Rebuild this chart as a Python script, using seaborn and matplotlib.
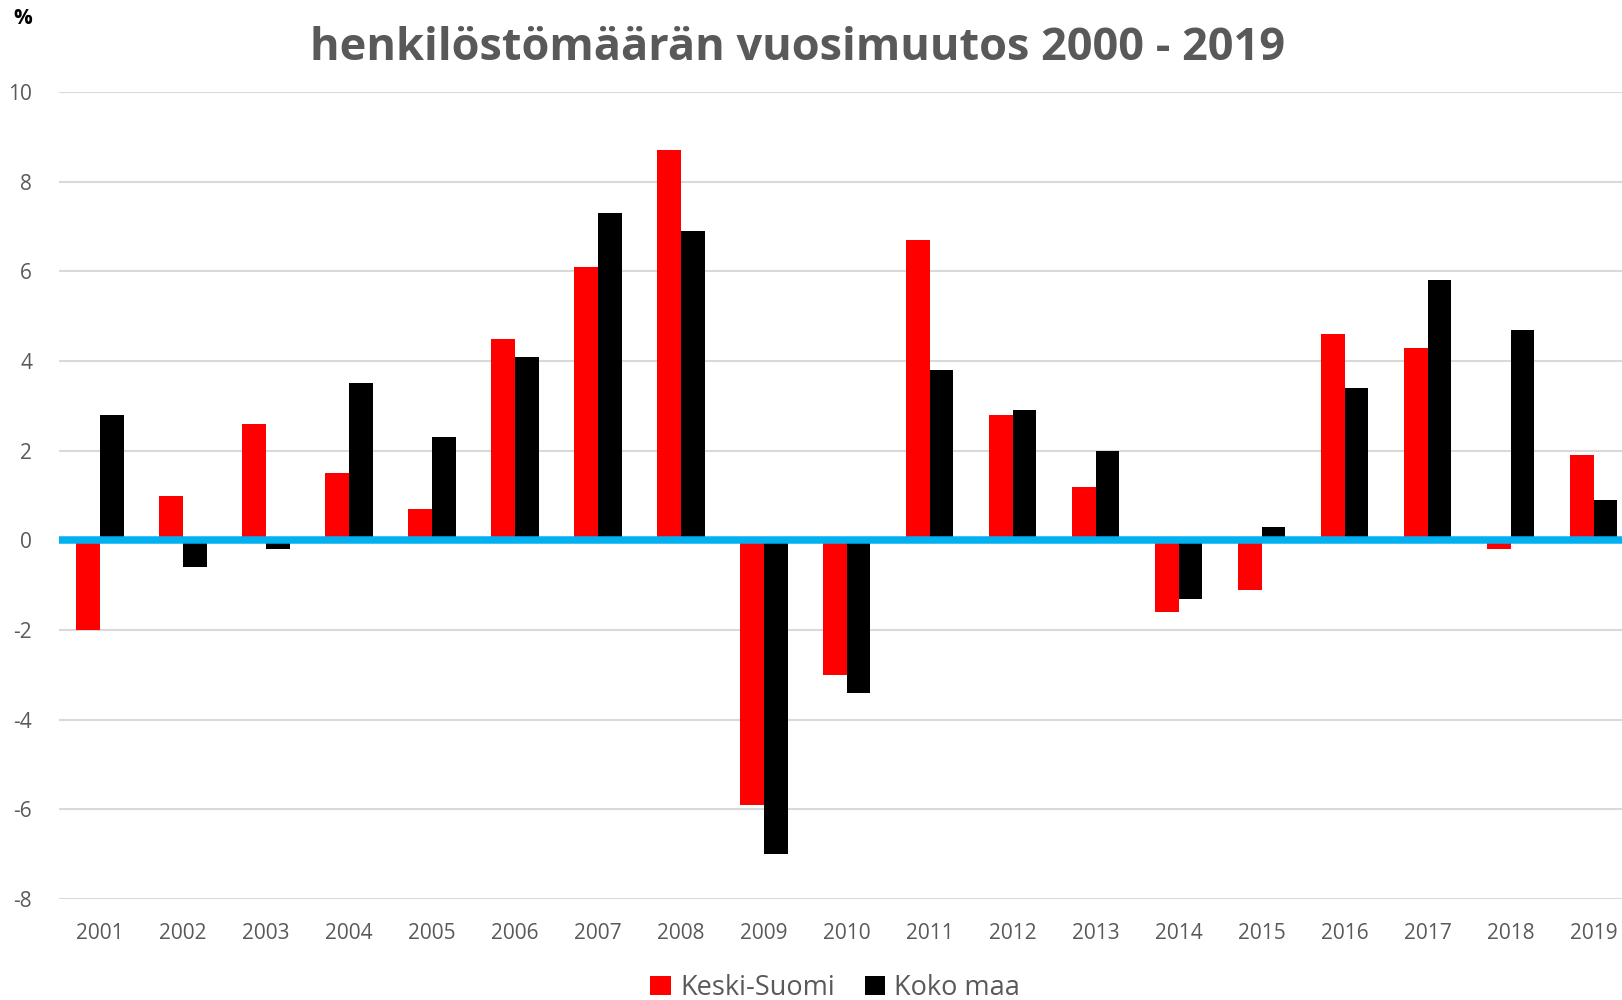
import pandas as pd
import matplotlib.pyplot as plt
import seaborn as sns
from matplotlib.patches import Patch

# Vuosittainen henkilöstömäärän muutos (%)
years = [str(y) for y in range(2001, 2020)]
keski_suomi = [-2.0, 1.0, 2.6, 1.5, 0.7, 4.5, 6.1, 8.7, -5.9, -3.0,
               6.7, 2.8, 1.2, -1.6, -1.1, 4.6, 4.3, -0.2, 1.9]
koko_maa = [2.8, -0.6, -0.2, 3.5, 2.3, 4.1, 7.3, 6.9, -7.0, -3.4,
            3.8, 2.9, 2.0, -1.3, 0.3, 3.4, 5.8, 4.7, 0.9]
series_names = ["Keski-Suomi", "Koko maa"]
colors = {"Keski-Suomi": "#FF0000", "Koko maa": "#000000"}
y_ticks = list(range(-8, 11, 2))

df = pd.DataFrame({
    "Vuosi": years * 2,
    "Muutos": keski_suomi + koko_maa,
    "Alue": [series_names[0]] * len(years) + [series_names[1]] * len(years),
})

sns.set_theme(style="white")
plt.rcParams["font.family"] = ["Open Sans", "DejaVu Sans"]
grey = "#595959"

fig = plt.figure(figsize=(16.22, 10), dpi=100)
ax = fig.add_axes([0.0361, 0.101, 0.972, 0.807])

sns.barplot(data=df, x="Vuosi", y="Muutos", hue="Alue", palette=colors,
            width=0.57, gap=0, ax=ax, legend=False, saturation=1,
            edgecolor="none", zorder=2)

ax.set_ylim(-8, 10)
ax.set_xlim(-0.5, len(years) - 0.5)
ax.set_yticks(y_ticks)
ax.set_yticklabels([str(t) for t in y_ticks])
ax.yaxis.grid(True, color="#D9D9D9", linewidth=1.5, zorder=0)
ax.set_axisbelow(True)
ax.axhline(0, color="#00B0F0", linewidth=5.4, zorder=3)
for s in ax.spines.values():
    s.set_visible(False)
ax.set_xlabel("")
ax.set_ylabel("")
ax.tick_params(axis="both", length=0, labelsize=15, labelcolor=grey)
ax.tick_params(axis="y", pad=19)
ax.tick_params(axis="x", pad=17)

fig.text(0.4915, 0.952, "henkilöstömäärän vuosimuutos 2000 - 2019",
         ha="center", va="center", fontsize=32.5, fontweight="bold", color=grey)
fig.text(0.008, 0.982, "%", ha="left", va="center", fontsize=15,
         fontweight="bold", color="black")

handles = [Patch(facecolor=colors[n], edgecolor="none") for n in series_names]
fig.legend(handles, series_names, loc="center", bbox_to_anchor=(0.515, 0.012),
           ncol=2, frameon=False, fontsize=19.5, labelcolor=grey,
           handlelength=0.75, handleheight=0.75, handletextpad=0.35,
           columnspacing=1.1)

fig.savefig("out.png", dpi=100)
